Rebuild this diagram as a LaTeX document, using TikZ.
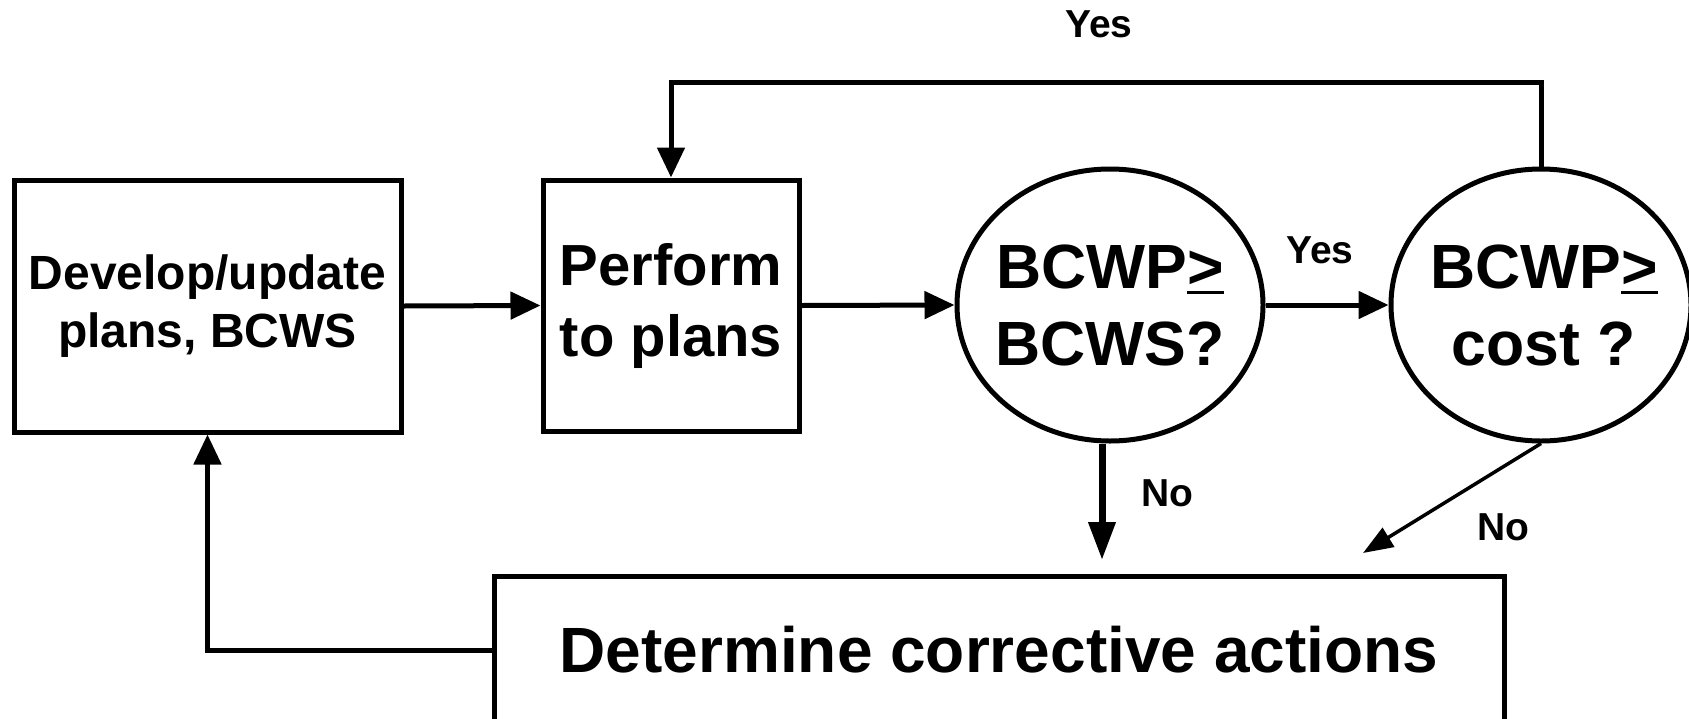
\documentclass[tikz,border=0pt]{standalone}
\usepackage{fontspec}
\setmainfont{Liberation Sans}
\usetikzlibrary{arrows.meta,shapes.geometric}
% underlined "greater than" sign
\newcommand{\ugt}{\rlap{\rule[-0.1em]{0.584em}{0.06em}}>}
\begin{document}
\begin{tikzpicture}[x=1pt,y=-1pt,
  box/.style={draw,line width=5pt,rectangle,inner sep=0pt,align=center},
  oval/.style={draw,line width=5pt,ellipse,inner sep=0pt},
  qtext/.style={align=center,font=\bfseries\fontsize{62.5}{77}\selectfont},
  link/.style={line width=5pt,-{Triangle[length=30pt,width=27pt]}},
  lbl/.style={font=\bfseries\fontsize{39}{44}\selectfont}]
\useasboundingbox (0,0) rectangle (1689,718);
\clip (0,0) rectangle (1689,718);

% process boxes
\node[box,minimum width=387pt,minimum height=252pt,
      font=\bfseries\fontsize{48}{58}\selectfont] (plan) at (207.5,306)
      {Develop/update\\plans, BCWS};
\node[box,minimum width=256pt,minimum height=251pt,
      font=\bfseries\fontsize{58}{71}\selectfont] (perf) at (671,305.5)
      {Perform\\to plans};
\node[box,minimum width=1010pt,minimum height=148pt,
      font=\bfseries\fontsize{64}{72}\selectfont] (act) at (999,650)
      {Determine corrective actions};

% decisions
\node[oval,minimum width=306pt,minimum height=272pt] (q1) at (1110,305) {};
\node[qtext] (q1t) at (q1) {BCWP\ugt\\BCWS?};
\node[oval,minimum width=300pt,minimum height=272pt] (q2) at (1541,305) {};
\node[qtext] (q2t) at (1544,305) {BCWP\ugt\\cost ?};

% free ends of the "No" arrows and the corner of the loop
\coordinate (noA) at (1102,560);
\coordinate (noB) at (1363,553);
\coordinate (loop) at (1541,82);

% connectors
\draw[link] (plan.east) -- (perf.west);
\draw[link] (perf.east) -- (q1.west);
\draw[link] (q1.east) -- (q2.west);
\draw[link] (q2.north) -- (loop) -| (perf.north);
\draw[line width=7pt,-{Triangle[length=38pt,width=26pt]}] (q1.south -| noA) -- (noA);
\draw[line width=3.5pt,-{Triangle[length=30pt,width=22pt]}] (q2.south) -- (noB);
\draw[link] (act.west) -| (plan.south);

% branch labels
\node[lbl] (yesTop) at (1099,24) {Yes};
\node[lbl] (yesMid) at (1320,250) {Yes};
\node[lbl] (no1) at (1167,493) {No};
\node[lbl] (no2) at (1503,527) {No};
\end{tikzpicture}
\end{document}
